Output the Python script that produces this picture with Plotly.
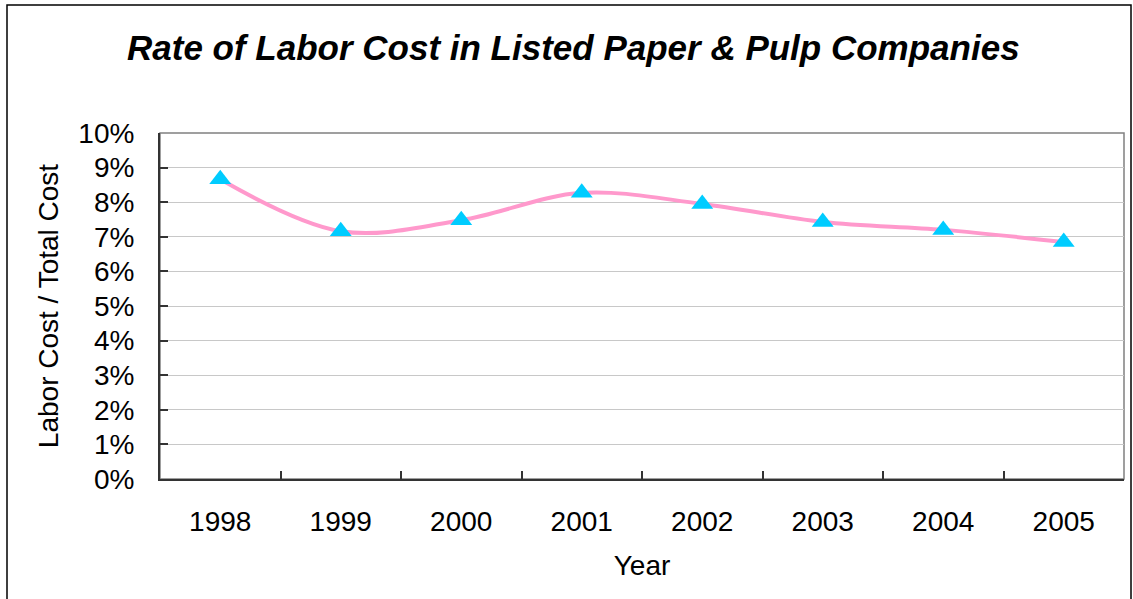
import plotly.graph_objects as go

# Share of labor cost in total cost, listed paper & pulp companies
years = ["1998", "1999", "2000", "2001", "2002", "2003", "2004", "2005"]
labor_rate = [0.0866, 0.0716, 0.0748, 0.0827, 0.0795, 0.0743, 0.0720, 0.0685]
y_ticks = [i / 100 for i in range(0, 11)]
y_tick_text = [f"{i}%" for i in range(0, 11)]

FONT = "Liberation Sans, Arial, sans-serif"

fig = go.Figure()
fig.add_trace(go.Scatter(
    x=years,
    y=labor_rate,
    mode="lines+markers",
    line=dict(color="#FF99CC", width=4, shape="spline", smoothing=1.0),
    marker=dict(symbol="triangle-up", size=19, color="#00CCFF",
                line=dict(width=0)),
    showlegend=False,
))

W, H = 1133, 599
L, R, T, B = 160, 9, 133, 120
pw, ph = W - L - R, H - T - B


def px_x(p):
    return (p - L) / pw


def px_y(p):
    return (H - B - p) / ph


# outer chart frame
fig.add_shape(type="rect", xref="paper", yref="paper",
              x0=px_x(7), x1=px_x(1131), y0=px_y(640), y1=px_y(5),
              line=dict(color="#000000", width=1.5), fillcolor="rgba(0,0,0,0)",
              layer="below")
# plot area border (top / right)
fig.add_shape(type="rect", xref="paper", yref="paper",
              x0=0, x1=1, y0=0, y1=1,
              line=dict(color="#808080", width=1.5), fillcolor="rgba(0,0,0,0)",
              layer="below")

fig.update_layout(
    width=W, height=H,
    margin=dict(l=L, r=R, t=T, b=B),
    paper_bgcolor="white",
    plot_bgcolor="white",
    font=dict(family=FONT, color="#000000", size=28),
    title=dict(
        text="<b><i>Rate of Labor Cost in Listed Paper &amp; Pulp Companies</i></b>",
        x=0.506, xanchor="center", y=1 - 48 / H, yanchor="middle",
        font=dict(family=FONT, size=35, color="#000000"),
    ),
    xaxis=dict(
        type="category",
        range=[-0.5, 7.5],
        tickson="boundaries",
        ticks="inside", ticklen=8, tickcolor="#333333", tickwidth=1.5,
        showline=True, linecolor="#333333", linewidth=2,
        showgrid=False,
        tickfont=dict(size=28),
        ticklabelstandoff=16,
        title=dict(text="Year", font=dict(size=28), standoff=20),
        fixedrange=True,
    ),
    yaxis=dict(
        range=[0, 0.10],
        tickvals=y_ticks, ticktext=y_tick_text,
        ticks="inside", ticklen=8, tickcolor="#333333", tickwidth=1.5,
        showline=True, linecolor="#333333", linewidth=2,
        showgrid=True, gridcolor="#C8C8C8", gridwidth=1,
        zeroline=False,
        tickfont=dict(size=28),
        ticklabelstandoff=18,
        title=dict(text="Labor Cost / Total Cost", font=dict(size=28), standoff=12),
        fixedrange=True,
    ),
)

fig.write_html("out.html")
